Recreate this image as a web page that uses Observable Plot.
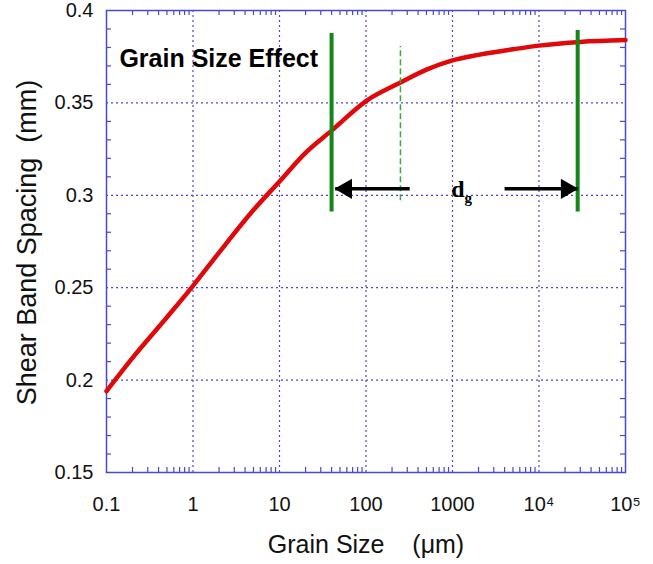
<!DOCTYPE html>
<html>
<head>
<meta charset="utf-8">
<script src="https://cdn.jsdelivr.net/npm/d3@7"></script>
<script src="https://cdn.jsdelivr.net/npm/@observablehq/plot@0.6"></script>
<style>
  html, body { margin: 0; padding: 0; background: #fff; }
  #chart { width: 653px; height: 564px; }
</style>
</head>
<body>
<div id="chart"></div>
<script>
// ---- data ----
const grainSize = [0.1, 0.2, 0.5, 1, 2, 5, 10, 20, 40, 100, 250, 500, 1000, 2000, 5000, 10000, 30000, 100000];
const spacing   = [0.194, 0.212, 0.234, 0.251, 0.269, 0.292, 0.3075, 0.323, 0.335, 0.351, 0.361, 0.368, 0.373, 0.376, 0.379, 0.381, 0.383, 0.384];

const xTicks = [0.1, 1, 10, 100, 1000, 10000, 100000];
const xTickLabels = ["0.1", "1", "10", "100", "1000", "10\u2074", "10\u2075"];
const yTicks = [0.15, 0.2, 0.25, 0.3, 0.35, 0.4];
const yTickLabels = ["0.15", "0.2", "0.25", "0.3", "0.35", "0.4"];

// green marker lines (grain size, bottom, top)
const solidLines = [
  {x: 40, y1: 0.291, y2: 0.3876},
  {x: 28000, y1: 0.291, y2: 0.3892}
];
const dashedLines = [{x: 250, y1: 0.297, y2: 0.3805}];
// arrows (from, to) at spacing level
const arrows = [
  {x1: 320, x2: 44, y: 0.3035},
  {x1: 4000, x2: 28000, y: 0.3035}
];
const titleText = [{x: 0.141, y: 0.3735, text: "Grain Size Effect"}];
const dLabel = [{x: 1380, y: 0.3035, text: "d"}];
const gLabel = [{x: 1380, y: 0.2985, text: "g"}];
const xLabel = "Grain Size\u00a0\u00a0\u00a0\u00a0(\u03bcm)";
const yLabel = "Shear Band Spacing\u00a0\u00a0(mm)";

// ---- derived ----
const data = grainSize.map((g, i) => ({g, s: spacing[i]}));
const minorX = [];
for (let e = -1; e < 5; e++) for (let k = 2; k <= 9; k++) minorX.push(k * Math.pow(10, e));
const minorY = d3.range(16, 40).filter(v => v % 5 !== 0).map(v => v / 100);

const W = 653, H = 564, mL = 106, mR = 28, mT = 10, mB = 92;
const tickPx = 5;
const yTickLen = (0.4 - 0.15) * tickPx / (H - mT - mB);
const xTickRatio = Math.pow(10, 6 * tickPx / (W - mL - mR));

const blue = "#4848d4";
const font = "Helvetica, Arial, 'Liberation Sans', sans-serif";
const serif = "'Liberation Serif', 'Times New Roman', serif";

const chart = Plot.plot({
  width: W, height: H,
  marginLeft: mL, marginRight: mR, marginTop: mT, marginBottom: mB,
  style: {fontFamily: font, background: "#fff"},
  x: {type: "log", domain: [0.1, 100000]},
  y: {domain: [0.15, 0.4]},
  marks: [
    Plot.gridX(xTicks.slice(1, -1), {stroke: blue, strokeOpacity: 1, strokeWidth: 1.2, strokeDasharray: "2,3"}),
    Plot.gridY(yTicks.slice(1, -1), {stroke: blue, strokeOpacity: 1, strokeWidth: 1.2, strokeDasharray: "2,3"}),
    // minor ticks, inward
    Plot.ruleX(minorX, {x: d => d, y1: 0.15, y2: 0.15 + yTickLen, stroke: blue, strokeWidth: 1.2}),
    Plot.ruleX(minorX, {x: d => d, y1: 0.4 - yTickLen, y2: 0.4, stroke: blue, strokeWidth: 1.2}),
    Plot.ruleY(minorY, {y: d => d, x1: 0.1, x2: 0.1 * xTickRatio, stroke: blue, strokeWidth: 1.2}),
    Plot.ruleY(minorY, {y: d => d, x1: 100000 / xTickRatio, x2: 100000, stroke: blue, strokeWidth: 1.2}),
    Plot.frame({stroke: blue, strokeWidth: 1.5}),
    Plot.axisX(xTicks, {tickSize: 0, tickPadding: 24, fontSize: 20, fill: "#111",
      tickFormat: d => xTickLabels[xTicks.indexOf(d)], label: null}),
    Plot.axisY(yTicks, {tickSize: 0, tickPadding: 13, fontSize: 20, fill: "#111",
      tickFormat: d => yTickLabels[yTicks.findIndex(t => Math.abs(t - d) < 1e-9)], label: null}),
    Plot.text([xLabel], {frameAnchor: "bottom", textAnchor: "middle", lineAnchor: "middle", dy: 72, fontSize: 25, fill: "#111"}),
    Plot.text([yLabel], {frameAnchor: "left", textAnchor: "middle", lineAnchor: "middle", dx: -79, dy: 1, rotate: -90, fontSize: 27, fill: "#111"}),
    // curve
    Plot.line(data, {x: "g", y: "s", stroke: "#e00808", strokeWidth: 4.5, strokeLinejoin: "round", strokeLinecap: "round", curve: "monotone-x"}),
    // green lines
    Plot.ruleX(solidLines, {x: "x", y1: "y1", y2: "y2", stroke: "#16861a", strokeWidth: 4}),
    Plot.ruleX(dashedLines, {x: "x", y1: "y1", y2: "y2", stroke: "#3aa83a", strokeWidth: 1.5, strokeDasharray: "6,3"}),
    // arrows
    Plot.link(arrows, {x1: "x1", x2: "x2", y1: "y", y2: "y", stroke: "#000", strokeWidth: 3.5}),
    Plot.dot([arrows[0]], {x: "x2", y: "y", symbol: "triangle", r: 7.5, fill: "#000", stroke: "none", rotate: -90, dx: 11}),
    Plot.dot([arrows[1]], {x: "x2", y: "y", symbol: "triangle", r: 7.5, fill: "#000", stroke: "none", rotate: 90, dx: -11}),
    // texts
    Plot.text(titleText, {x: "x", y: "y", text: "text", textAnchor: "start", fontSize: 25, fontWeight: "bold", fill: "#000"}),
    Plot.text(dLabel, {x: "x", y: "y", text: "text", textAnchor: "end", fontSize: 24, fontWeight: "bold", fontFamily: serif, fill: "#000"}),
    Plot.text(gLabel, {x: "x", y: "y", text: "text", textAnchor: "start", fontSize: 15, fontWeight: "bold", fontFamily: serif, fill: "#000"})
  ]
});
document.getElementById("chart").appendChild(chart);
</script>
</body>
</html>
